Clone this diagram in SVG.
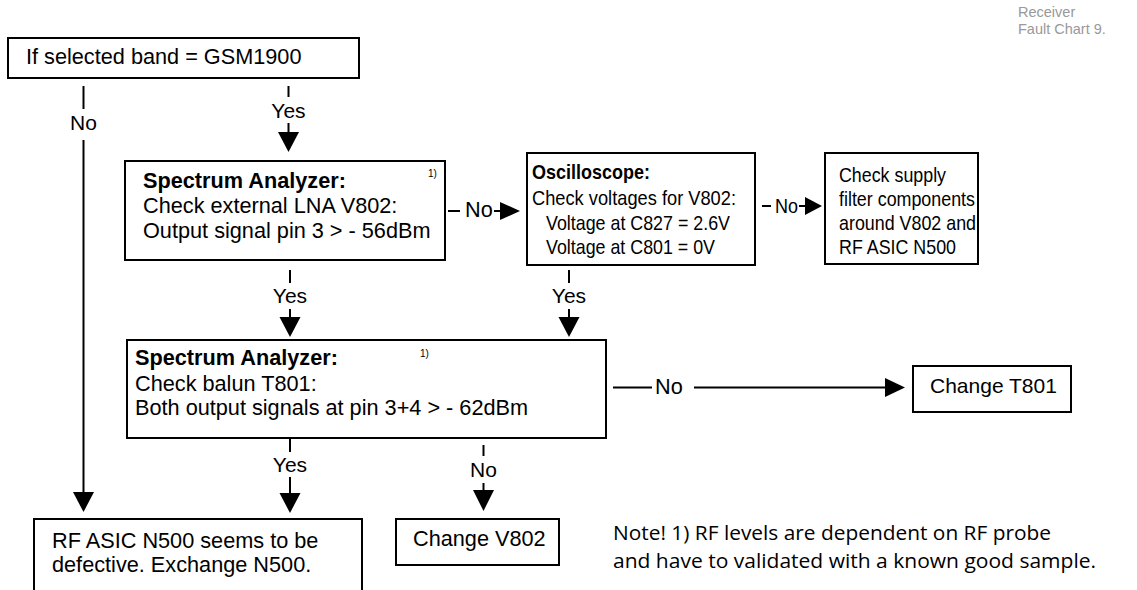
<svg xmlns="http://www.w3.org/2000/svg" width="1137" height="590" viewBox="0 0 1137 590">
<style>
.box{fill:#fff;stroke:#000;stroke-width:2}
.t{font-family:"Liberation Sans",Arial,sans-serif;font-size:21.7px;fill:#000}
.s{font-family:"Liberation Sans",Arial,sans-serif;font-size:21px;fill:#000}
.b{font-weight:bold}
.sup{font-family:"Liberation Sans",Arial,sans-serif;font-size:10px;fill:#000}
.lbl{font-family:"Liberation Sans",Arial,sans-serif;font-size:21px;fill:#000;text-anchor:middle}
.ln{stroke:#000;stroke-width:2;fill:none}
.ah{fill:#000}
.hdr{font-family:"Liberation Sans",Arial,sans-serif;font-size:14.5px;fill:#999}
.note{font-family:"Open Sans","Noto Sans",sans-serif;font-size:20px;fill:#000}
</style>
<rect width="1137" height="590" fill="#fff"/>
<g id="header">
<text class="hdr" x="1018" y="17">Receiver</text>
<text class="hdr" x="1018" y="34">Fault Chart 9.</text>
</g>
<g id="connectors">
<line class="ln" x1="83.5" y1="86" x2="83.5" y2="109"/>
<text class="lbl" x="83.5" y="130">No</text>
<line class="ln" x1="83.5" y1="140" x2="83.5" y2="493"/>
<polygon class="ah" points="73,492 94,492 83.5,512"/>
<line class="ln" x1="288.5" y1="86" x2="288.5" y2="97"/>
<text class="lbl" x="288.5" y="118">Yes</text>
<line class="ln" x1="288.5" y1="123" x2="288.5" y2="133"/>
<polygon class="ah" points="278,132 299,132 288.5,152"/>
<line class="ln" x1="448" y1="211" x2="460" y2="211"/>
<text class="t" x="465" y="217">No</text>
<line class="ln" x1="494" y1="211" x2="501" y2="211"/>
<polygon class="ah" points="500,202 500,220 520,211"/>
<line class="ln" x1="762" y1="206" x2="771" y2="206"/>
<text class="s" x="775" y="213" textLength="23" lengthAdjust="spacingAndGlyphs">No</text>
<line class="ln" x1="799" y1="206" x2="806" y2="206"/>
<polygon class="ah" points="805,197 805,215 822,206"/>
<line class="ln" x1="290" y1="270" x2="290" y2="283"/>
<text class="lbl" x="290" y="303">Yes</text>
<line class="ln" x1="290" y1="309" x2="290" y2="318"/>
<polygon class="ah" points="279.5,317 300.5,317 290,337"/>
<line class="ln" x1="569" y1="270" x2="569" y2="283"/>
<text class="lbl" x="569" y="303">Yes</text>
<line class="ln" x1="569" y1="309" x2="569" y2="318"/>
<polygon class="ah" points="558.5,317 579.5,317 569,337"/>
<line class="ln" x1="613" y1="387.5" x2="652" y2="387.5"/>
<text class="t" x="655" y="394">No</text>
<line class="ln" x1="694" y1="387.5" x2="886" y2="387.5"/>
<polygon class="ah" points="885,378 885,397 905,387.5"/>
<line class="ln" x1="290" y1="438" x2="290" y2="452"/>
<text class="lbl" x="290" y="472">Yes</text>
<line class="ln" x1="290" y1="477" x2="290" y2="494"/>
<polygon class="ah" points="279.5,493 300.5,493 290,513"/>
<line class="ln" x1="483.5" y1="445" x2="483.5" y2="456"/>
<text class="lbl" x="483.5" y="477">No</text>
<line class="ln" x1="483.5" y1="483" x2="483.5" y2="491"/>
<polygon class="ah" points="473,490 494,490 483.5,511"/>
</g>
<g id="n1">
<rect class="box" x="8" y="38" width="351" height="40"/>
<text class="t" x="26" y="64">If selected band = GSM1900</text>
</g>
<g id="n2">
<rect class="box" x="125" y="161" width="320" height="99"/>
<text class="t b" x="143" y="188">Spectrum Analyzer:</text>
<text class="t" x="143" y="213">Check external LNA V802:</text>
<text class="t" x="143" y="238">Output signal pin 3 &gt; - 56dBm</text>
<text class="sup" x="428" y="177">1)</text>
</g>
<g id="n3">
<rect class="box" x="527" y="153" width="228" height="112"/>
<text class="s b" x="532" y="179" textLength="118" lengthAdjust="spacingAndGlyphs">Oscilloscope:</text>
<text class="s" x="532" y="205" textLength="204" lengthAdjust="spacingAndGlyphs">Check voltages for V802:</text>
<text class="s" x="546" y="230" textLength="184" lengthAdjust="spacingAndGlyphs">Voltage at C827 = 2.6V</text>
<text class="s" x="546" y="254" textLength="169" lengthAdjust="spacingAndGlyphs">Voltage at C801 = 0V</text>
</g>
<g id="n4">
<rect class="box" x="825" y="153" width="153" height="111"/>
<text class="s" x="839" y="182" textLength="107" lengthAdjust="spacingAndGlyphs">Check supply</text>
<text class="s" x="839" y="206" textLength="136" lengthAdjust="spacingAndGlyphs">filter components</text>
<text class="s" x="839" y="230" textLength="137" lengthAdjust="spacingAndGlyphs">around V802 and</text>
<text class="s" x="839" y="254" textLength="117" lengthAdjust="spacingAndGlyphs">RF ASIC N500</text>
</g>
<g id="n5">
<rect class="box" x="127" y="340" width="479" height="98"/>
<text class="t b" x="135" y="365">Spectrum Analyzer:</text>
<text class="t" x="135" y="391">Check balun T801:</text>
<text class="t" x="135" y="415">Both output signals at pin 3+4 &gt; - 62dBm</text>
<text class="sup" x="420" y="357">1)</text>
</g>
<g id="n6">
<rect class="box" x="913" y="366" width="158" height="46"/>
<text class="t" x="930" y="393" style="font-size:21px">Change T801</text>
</g>
<g id="n7">
<rect class="box" x="34" y="519" width="328" height="80"/>
<text class="t" x="52" y="548">RF ASIC N500 seems to be</text>
<text class="t" x="52" y="572">defective. Exchange N500.</text>
</g>
<g id="n8">
<rect class="box" x="396" y="519" width="163" height="46"/>
<text class="t" x="413" y="546">Change V802</text>
</g>
<g id="note">
<text class="note" x="613" y="540" textLength="438" lengthAdjust="spacingAndGlyphs">Note! 1) RF levels are dependent on RF probe</text>
<text class="note" x="613" y="568" textLength="483" lengthAdjust="spacingAndGlyphs">and have to validated with a known good sample.</text>
</g>
</svg>
